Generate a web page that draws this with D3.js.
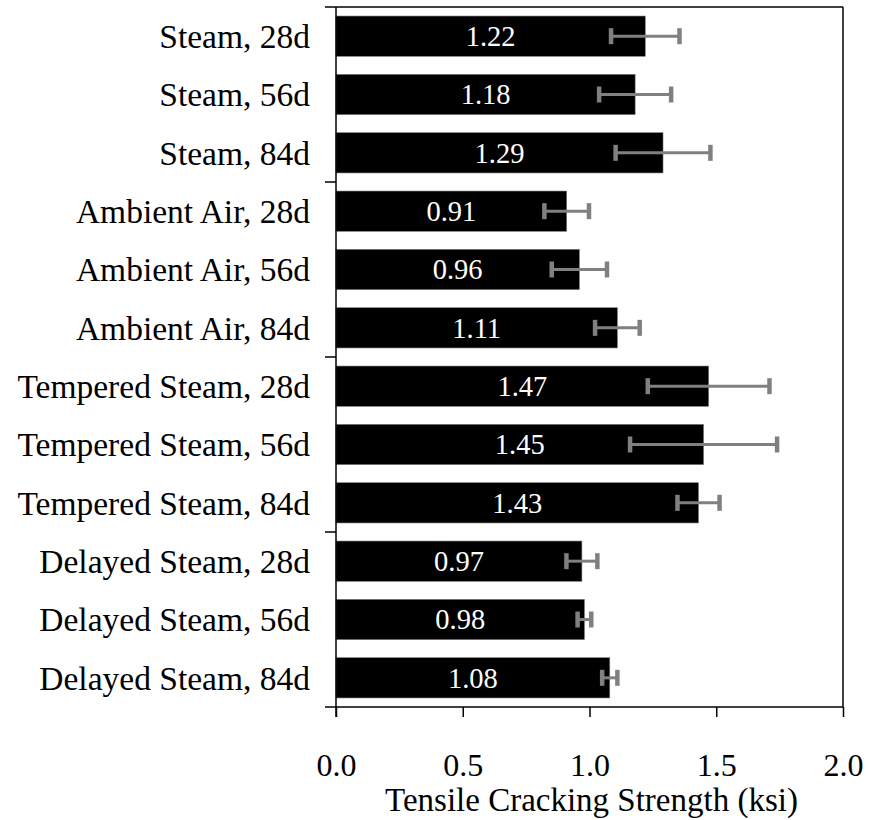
<!DOCTYPE html>
<html>
<head>
<meta charset="utf-8">
<script src="https://cdn.jsdelivr.net/npm/d3@7"></script>
<style>
  html, body { margin: 0; padding: 0; background: #fff; }
  svg text { font-family: "Liberation Serif", "Times New Roman", serif; }
</style>
</head>
<body>
<svg id="chart" width="870" height="820"></svg>
<script>
const categories = [
  "Steam, 28d", "Steam, 56d", "Steam, 84d",
  "Ambient Air, 28d", "Ambient Air, 56d", "Ambient Air, 84d",
  "Tempered Steam, 28d", "Tempered Steam, 56d", "Tempered Steam, 84d",
  "Delayed Steam, 28d", "Delayed Steam, 56d", "Delayed Steam, 84d"
];
const values = [1.22, 1.18, 1.29, 0.91, 0.96, 1.11, 1.47, 1.45, 1.43, 0.97, 0.98, 1.08];
const errors = [0.135, 0.142, 0.187, 0.088, 0.109, 0.088, 0.24, 0.29, 0.083, 0.061, 0.027, 0.03];
const xTicks = [0.0, 0.5, 1.0, 1.5, 2.0];
const groupSize = 3;

(function () {
const svg = d3.select("#chart");
const mLeft = 336, mRight = 843, mTop = 7, mBottom = 707;

const x = d3.scaleLinear().domain([0, 2]).range([mLeft, mRight]);
const y = d3.scaleBand().domain(categories).range([mTop, mBottom]).paddingInner(0.31).paddingOuter(0.155);

// frame: top line and right line
svg.append("line").attr("x1", mLeft - 11).attr("x2", mRight).attr("y1", mTop).attr("y2", mTop)
  .attr("stroke", "#000").attr("stroke-width", 1.5);
svg.append("line").attr("x1", mRight).attr("x2", mRight).attr("y1", mTop).attr("y2", mBottom)
  .attr("stroke", "#000").attr("stroke-width", 1.5);

// bars
svg.append("g").selectAll("rect").data(categories).join("rect")
  .attr("x", x(0))
  .attr("y", d => y(d))
  .attr("width", (d, i) => x(values[i]) - x(0))
  .attr("height", y.bandwidth())
  .attr("fill", "#000")
  .attr("stroke", "#777")
  .attr("stroke-width", 0.6);

// value labels
svg.append("g").selectAll("text").data(categories).join("text")
  .attr("x", (d, i) => (x(0) + x(values[i])) / 2)
  .attr("y", d => y(d) + y.bandwidth() / 2)
  .attr("dy", "0.35em")
  .attr("text-anchor", "middle")
  .attr("fill", "#fff")
  .attr("font-size", 28.5)
  .text((d, i) => values[i].toFixed(2));

// error bars
const eb = svg.append("g").attr("stroke", "#808080");
categories.forEach((c, i) => {
  const cy = y(c) + y.bandwidth() / 2;
  const lo = x(values[i] - errors[i]), hi = x(values[i] + errors[i]);
  eb.append("line").attr("x1", lo).attr("x2", hi).attr("y1", cy).attr("y2", cy).attr("stroke-width", 3);
  [lo, hi].forEach(px => {
    eb.append("line").attr("x1", px).attr("x2", px).attr("y1", cy - 8).attr("y2", cy + 8).attr("stroke-width", 4.5);
  });
});

// x axis
const xAxis = d3.axisBottom(x).tickValues(xTicks).tickFormat(d3.format(".1f")).tickSize(10).tickPadding(36);
const gx = svg.append("g").attr("transform", `translate(0,${mBottom})`).call(xAxis);
gx.select(".domain").remove();
gx.selectAll(".tick line").attr("stroke", "#000").attr("stroke-width", 1.5);
gx.selectAll(".tick text").attr("font-size", 32).attr("fill", "#000")
  .style("font-family", "'Liberation Serif', 'Times New Roman', serif");
svg.append("line").attr("x1", mLeft - 11).attr("x2", mRight).attr("y1", mBottom).attr("y2", mBottom)
  .attr("stroke", "#000").attr("stroke-width", 1.5);

// y axis (line + group separators)
svg.append("line").attr("x1", mLeft).attr("x2", mLeft).attr("y1", mTop).attr("y2", mBottom + 10)
  .attr("stroke", "#000").attr("stroke-width", 1.5);
const step = y.step();
const seps = d3.range(0, categories.length + 1, groupSize).map(k => y(categories[0]) - y.paddingOuter() * step + k * step);
svg.append("g").selectAll("line").data(seps.slice(1, -1)).join("line")
  .attr("x1", mLeft - 11).attr("x2", mLeft)
  .attr("y1", d => d).attr("y2", d => d)
  .attr("stroke", "#000").attr("stroke-width", 1.5);

// category labels
svg.append("g").selectAll("text").data(categories).join("text")
  .attr("x", mLeft - 26)
  .attr("y", d => y(d) + y.bandwidth() / 2)
  .attr("dy", "0.35em")
  .attr("text-anchor", "end")
  .attr("font-size", 33.5)
  .attr("fill", "#000")
  .text(d => d);

// x title
svg.append("text")
  .attr("x", (mLeft + mRight) / 2 + 2)
  .attr("y", 811)
  .attr("text-anchor", "middle")
  .attr("font-size", 33)
  .attr("fill", "#000")
  .text("Tensile Cracking Strength (ksi)");
})();
</script>
</body>
</html>
